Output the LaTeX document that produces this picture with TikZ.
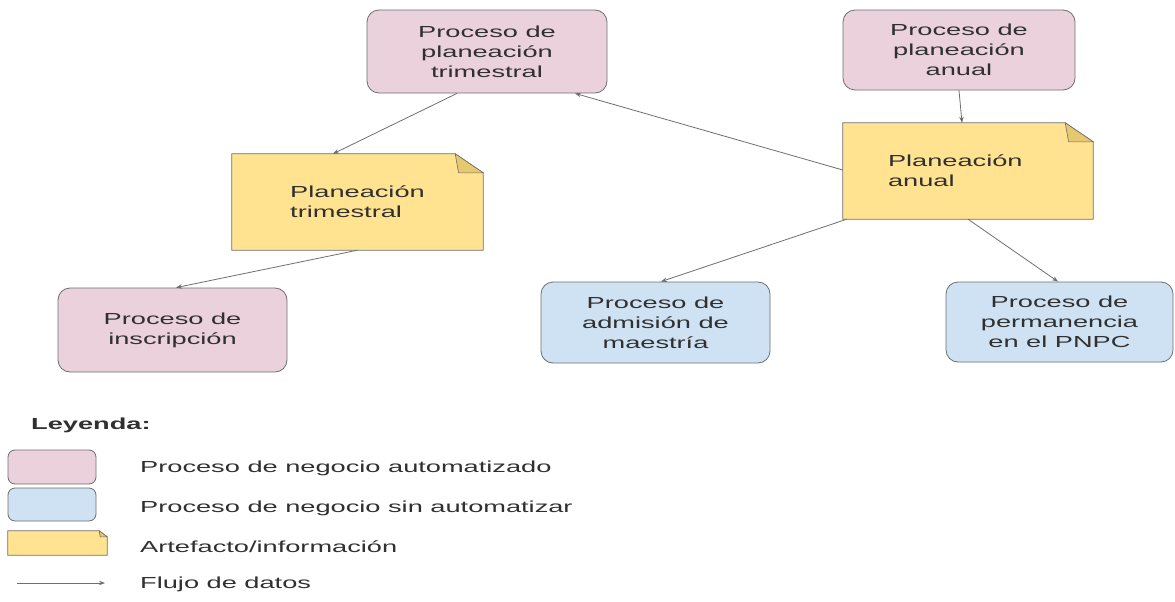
\documentclass[tikz,border=0pt]{standalone}
\usepackage{fontspec}
\setmainfont{Liberation Sans}[FakeStretch=1.7]
\usetikzlibrary{arrows.meta,backgrounds}
\definecolor{pinkfill}{HTML}{EAD1DC}
\definecolor{bluefill}{HTML}{CFE2F3}
\definecolor{notefill}{HTML}{FFE391}
\definecolor{foldfill}{HTML}{E6C86E}
\definecolor{edge}{HTML}{6E6E6E}
\definecolor{txt}{HTML}{303030}
\tikzset{
  base/.style={font=\fontsize{16}{20}\selectfont, text=txt, inner sep=0pt},
  procauto/.style={base, draw=edge, line width=0.8pt, fill=pinkfill, rounded corners=12pt, align=center},
  procman/.style={base, draw=edge, line width=0.8pt, fill=bluefill, rounded corners=12pt, align=center},
  artefacto/.style={base, align=left},
  flow/.style={draw=edge, line width=0.8pt, -{Stealth[length=6pt,width=4.5pt]}},
  notebody/.style={fill=notefill, draw=edge, line width=0.8pt},
  notefold/.style={fill=foldfill, draw=edge, line width=0.6pt},
}
\newcommand\drawnote[3]{%
  \begin{scope}[on background layer]
    \path[notebody] (#1.south west) -- (#1.north west) -- ([xshift=-#2]#1.north east)
      -- ([yshift=-#3]#1.north east) -- (#1.south east) -- cycle;
    \path[notefold] ([xshift=-#2]#1.north east) -- ([xshift=-#2+0.12*#2,yshift=-#3]#1.north east)
      -- ([yshift=-#3]#1.north east) -- cycle;
  \end{scope}}
\begin{document}
\begin{tikzpicture}[x=1pt,y=-1pt]
\useasboundingbox (0,0) rectangle (1175,602);
% process nodes
\node[procauto, minimum width=240pt, minimum height=83pt] (ppt) at (487,51.5)
  {Proceso de\\planeación\\trimestral};
\node[procauto, minimum width=232pt, minimum height=80pt] (ppa) at (959,50)
  {Proceso de\\planeación\\anual};
\node[procauto, minimum width=229pt, minimum height=84pt] (ins) at (172.5,330)
  {Proceso de\\inscripción};
\node[procman, minimum width=229pt, minimum height=81pt] (adm) at (655.5,322.5)
  {Proceso de\\admisión de\\maestría};
\node[procman, minimum width=227pt, minimum height=80pt] (per) at (1059.5,322)
  {Proceso de\\permanencia\\en el PNPC};
% artefacts
\node[artefacto, minimum width=251pt, minimum height=96pt] (ptr) at (357.5,202)
  {Planeación\\trimestral};
\drawnote{ptr}{28pt}{19pt}
\node[artefacto, text width=160pt, inner xsep=45pt, minimum height=96pt] (pan) at (968,171)
  {Planeación\\anual};
\drawnote{pan}{28pt}{19pt}
% data flows
\draw[flow] ([xshift=-30pt]ppt.south) -- ([xshift=-24.5pt]ptr.north);
\draw[flow] ([yshift=1pt]pan.west) -- ([xshift=88pt]ppt.south);
\draw[flow] (ppa.south) -- ([xshift=-6pt]pan.north);
\draw[flow] (ptr.south) -- ([xshift=3.5pt]ins.north);
\draw[flow] ([xshift=4pt]pan.south west) -- ([xshift=5.5pt]adm.north);
\draw[flow] (pan.south) -- ([xshift=-1.5pt]per.north);
% legend
\node[base, font=\fontsize{16}{20}\selectfont\bfseries, anchor=west] (ley) at (31,425) {Leyenda:};
\node[procauto, minimum width=88pt, minimum height=34pt, rounded corners=7pt] (lg1) at (52,467) {};
\node[procman, minimum width=88pt, minimum height=33pt, rounded corners=7pt] (lg2) at (52,504.5) {};
\node[artefacto, minimum width=99pt, minimum height=24pt] (lg3) at (57.5,543) {};
\drawnote{lg3}{8pt}{6pt}
\coordinate (fa) at (17,583);
\coordinate (fb) at (105,583);
\draw[flow] (fa) -- (fb);
\node[base, anchor=west] (t1) at (140,468) {Proceso de negocio automatizado};
\node[base, anchor=west] (t2) at (140,508) {Proceso de negocio sin automatizar};
\node[base, anchor=west] (t3) at (140,547) {Artefacto/información};
\node[base, anchor=west] (t4) at (140,584) {Flujo de datos};
\end{tikzpicture}
\end{document}
